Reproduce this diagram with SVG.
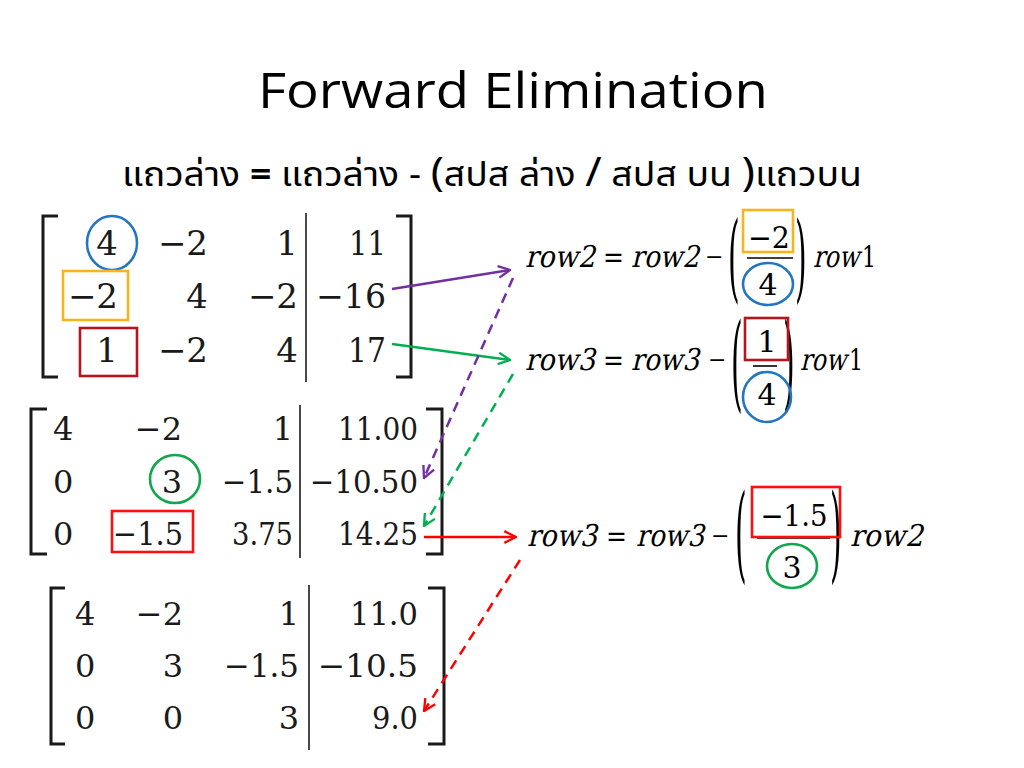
<svg xmlns="http://www.w3.org/2000/svg" width="1024" height="768" viewBox="0 0 1024 768">
<style>
.title{font-family:"Open Sans","Liberation Sans",sans-serif;font-size:50px;fill:#000}
.sub{font-family:"Noto Sans Thai","Noto Sans Thai UI","Noto Sans","DejaVu Sans",sans-serif;font-size:34px;fill:#000}
.big{font-size:40px}
.bold{font-weight:bold}
.mth{font-family:"DejaVu Serif",serif}
.m1{font-size:34px;fill:#1a1a1a;text-anchor:end}
.m2{font-size:32px;fill:#1a1a1a;text-anchor:end}
.st{text-anchor:start}
.br{fill:none;stroke:#1a1a1a;stroke-width:3}
.dv{stroke:#1a1a1a;stroke-width:1.6}
.eq{font-size:30px;fill:#000}
.mn{font-size:22px;fill:#000}
.mid{text-anchor:middle}
.par{font-size:30px;fill:#000}
.bar{stroke:#000;stroke-width:1.6}
.blue{fill:none;stroke:#2475c0;stroke-width:2.6}
.orange{fill:none;stroke:#f7b51c;stroke-width:2.6}
.dred{fill:none;stroke:#b5161c;stroke-width:2.6}
.green{fill:none;stroke:#12a64e;stroke-width:2.6}
.red{fill:none;stroke:#ff1010;stroke-width:2.6}
.cp{fill:none;stroke:#7030a0;stroke-width:2.5}
.cg{fill:none;stroke:#00b050;stroke-width:2.5}
.cr{fill:none;stroke:#ff0000;stroke-width:2.5}
.dash{stroke-dasharray:10 7}
</style>
<defs>
<marker id="ap" viewBox="0 0 12 12" refX="11" refY="6" markerWidth="14" markerHeight="14" markerUnits="userSpaceOnUse" orient="auto"><path d="M1,1 L11,6 L1,11" fill="none" stroke="#7030a0" stroke-width="2"/></marker>
<marker id="ag" viewBox="0 0 12 12" refX="11" refY="6" markerWidth="14" markerHeight="14" markerUnits="userSpaceOnUse" orient="auto"><path d="M1,1 L11,6 L1,11" fill="none" stroke="#00b050" stroke-width="2"/></marker>
<marker id="ar" viewBox="0 0 12 12" refX="11" refY="6" markerWidth="14" markerHeight="14" markerUnits="userSpaceOnUse" orient="auto"><path d="M1,1 L11,6 L1,11" fill="none" stroke="#ff0000" stroke-width="2"/></marker>
</defs>
<rect width="1024" height="768" fill="#fff"/>

<g id="title">
<text class="title" x="258" y="108" textLength="510" lengthAdjust="spacingAndGlyphs">Forward Elimination</text>
<text class="sub" x="122" y="186" textLength="740" lengthAdjust="spacingAndGlyphs">แถวล่าง <tspan class="bold">=</tspan> แถวล่าง - <tspan class="big">(</tspan>สปส ล่าง <tspan class="big">/</tspan> สปส บน <tspan class="big">)</tspan>แถวบน</text>
</g>

<g id="matrix1" class="mth">
<path class="br" d="M58,216 H43 V377 H58"/>
<path class="br" d="M396,216 H411 V377 H396"/>
<line class="dv" x1="306" y1="213" x2="306" y2="382"/>
<text class="m1" x="118" y="255">4</text><text class="m1" x="208" y="255">−2</text><text class="m1" x="298" y="255">1</text><text class="m1" x="386" y="255" textLength="37" lengthAdjust="spacingAndGlyphs">11</text>
<text class="m1" x="118" y="308">−2</text><text class="m1" x="208" y="308">4</text><text class="m1" x="298" y="308">−2</text><text class="m1" x="386" y="308" textLength="70" lengthAdjust="spacingAndGlyphs">−16</text>
<text class="m1" x="118" y="362">1</text><text class="m1" x="208" y="362">−2</text><text class="m1" x="298" y="362">4</text><text class="m1" x="386" y="362" textLength="38" lengthAdjust="spacingAndGlyphs">17</text>
<ellipse class="blue" cx="112" cy="243" rx="25" ry="27"/>
<rect class="orange" x="63" y="271" width="65" height="49"/>
<rect class="dred" x="80" y="328" width="57" height="48"/>
</g>

<g id="matrix2" class="mth">
<path class="br" d="M47,409 H31 V554 H47"/>
<path class="br" d="M426,409 H442 V554 H426"/>
<line class="dv" x1="300" y1="405" x2="300" y2="558"/>
<text class="m2 st" x="53" y="440">4</text><text class="m2" x="182" y="440">−2</text><text class="m2" x="293" y="440">1</text><text class="m2" x="418" y="440" textLength="80" lengthAdjust="spacingAndGlyphs">11.00</text>
<text class="m2 st" x="53" y="493">0</text><text class="m2" x="182" y="493">3</text><text class="m2" x="293" y="493" textLength="71" lengthAdjust="spacingAndGlyphs">−1.5</text><text class="m2" x="418" y="493" textLength="108" lengthAdjust="spacingAndGlyphs">−10.50</text>
<text class="m2 st" x="53" y="545">0</text><text class="m2" x="183" y="545" textLength="70" lengthAdjust="spacingAndGlyphs">−1.5</text><text class="m2" x="293" y="545" textLength="61" lengthAdjust="spacingAndGlyphs">3.75</text><text class="m2" x="418" y="545" textLength="80" lengthAdjust="spacingAndGlyphs">14.25</text>
<ellipse class="green" cx="175" cy="479" rx="25" ry="24"/>
<rect class="red" x="112" y="511" width="81" height="41"/>
</g>

<g id="matrix3" class="mth">
<path class="br" d="M65,588 H51 V744 H65"/>
<path class="br" d="M428,588 H444 V744 H428"/>
<line class="dv" x1="309" y1="585" x2="309" y2="750"/>
<text class="m2 st" x="75" y="625">4</text><text class="m2" x="183" y="625">−2</text><text class="m2" x="299" y="625">1</text><text class="m2" x="418" y="625" textLength="68" lengthAdjust="spacingAndGlyphs">11.0</text>
<text class="m2 st" x="75" y="677">0</text><text class="m2" x="183" y="677">3</text><text class="m2" x="299" y="677" textLength="75" lengthAdjust="spacingAndGlyphs">−1.5</text><text class="m2" x="418" y="677" textLength="100" lengthAdjust="spacingAndGlyphs">−10.5</text>
<text class="m2 st" x="75" y="729">0</text><text class="m2" x="183" y="729">0</text><text class="m2" x="299" y="729">3</text><text class="m2" x="418" y="729" textLength="46" lengthAdjust="spacingAndGlyphs">9.0</text>
</g>

<g id="eq1" class="mth">
<text class="eq" transform="translate(525,267) skewX(-13)" textLength="70" lengthAdjust="spacingAndGlyphs">row2</text>
<text class="eq" x="603" y="267" textLength="21" lengthAdjust="spacingAndGlyphs">=</text>
<text class="eq" transform="translate(631,267) skewX(-13)" textLength="68" lengthAdjust="spacingAndGlyphs">row2</text>
<text class="mn" x="705" y="264">−</text>
<text class="par" transform="translate(728,290) scale(1,3.15)">(</text>
<text class="eq mid" x="769" y="248" textLength="42" lengthAdjust="spacingAndGlyphs">−2</text>
<line class="bar" x1="747" y1="258" x2="793" y2="258"/>
<text class="eq mid" x="768" y="295">4</text>
<text class="par" transform="translate(795,290) scale(1,3.15)">)</text>
<text class="eq" transform="translate(813,267) skewX(-13)" textLength="46" lengthAdjust="spacingAndGlyphs">row</text><text class="eq" x="862" y="267" textLength="14" lengthAdjust="spacingAndGlyphs">1</text>
<rect class="orange" x="743" y="210" width="50" height="42"/>
<ellipse class="blue" cx="768" cy="284" rx="25" ry="21"/>
</g>

<g id="eq2" class="mth">
<text class="eq" transform="translate(525,370) skewX(-13)" textLength="70" lengthAdjust="spacingAndGlyphs">row3</text>
<text class="eq" x="603" y="370" textLength="21" lengthAdjust="spacingAndGlyphs">=</text>
<text class="eq" transform="translate(631,370) skewX(-13)" textLength="68" lengthAdjust="spacingAndGlyphs">row3</text>
<text class="mn" x="708" y="367">−</text>
<text class="par" transform="translate(731,398) scale(1,3.52)">(</text>
<text class="eq mid" x="767" y="352">1</text>
<line class="bar" x1="753" y1="366" x2="777" y2="366"/>
<text class="eq mid" x="767" y="405">4</text>
<text class="par" transform="translate(783,398) scale(1,3.52)">)</text>
<text class="eq" transform="translate(800,370) skewX(-13)" textLength="46" lengthAdjust="spacingAndGlyphs">row</text><text class="eq" x="849" y="370" textLength="14" lengthAdjust="spacingAndGlyphs">1</text>
<rect class="dred" x="745" y="318" width="43" height="42"/>
<ellipse class="blue" cx="767" cy="397" rx="24" ry="25"/>
</g>

<g id="eq3" class="mth">
<text class="eq" transform="translate(527,546) skewX(-13)" textLength="70" lengthAdjust="spacingAndGlyphs">row3</text>
<text class="eq" x="606" y="546" textLength="21" lengthAdjust="spacingAndGlyphs">=</text>
<text class="eq" transform="translate(636,546) skewX(-13)" textLength="68" lengthAdjust="spacingAndGlyphs">row3</text>
<text class="mn" x="711" y="543">−</text>
<text class="par" transform="translate(735,569) scale(1,3.48)">(</text>
<text class="eq mid" x="794" y="526" textLength="67" lengthAdjust="spacingAndGlyphs">−1.5</text>
<line class="bar" x1="757" y1="538" x2="830" y2="538"/>
<text class="eq mid" x="792" y="578">3</text>
<text class="par" transform="translate(830,569) scale(1,3.48)">)</text>
<text class="eq" transform="translate(850,546) skewX(-13)" textLength="73" lengthAdjust="spacingAndGlyphs">row2</text>
<rect class="red" x="752" y="487" width="88" height="50"/>
<ellipse class="green" cx="792" cy="566" rx="25" ry="22"/>
</g>

<g id="connectors">
<line class="cp" x1="392" y1="289" x2="510" y2="270" marker-end="url(#ap)"/>
<line class="cg" x1="392" y1="344" x2="510" y2="360" marker-end="url(#ag)"/>
<line class="cp dash" x1="513" y1="278" x2="424" y2="478" marker-end="url(#ap)"/>
<line class="cg dash" x1="513" y1="374" x2="424" y2="526" marker-end="url(#ag)"/>
<line class="cr" x1="424" y1="537" x2="516" y2="537" marker-end="url(#ar)"/>
<line class="cr dash" x1="520" y1="560" x2="424" y2="711" marker-end="url(#ar)"/>
</g>
</svg>
